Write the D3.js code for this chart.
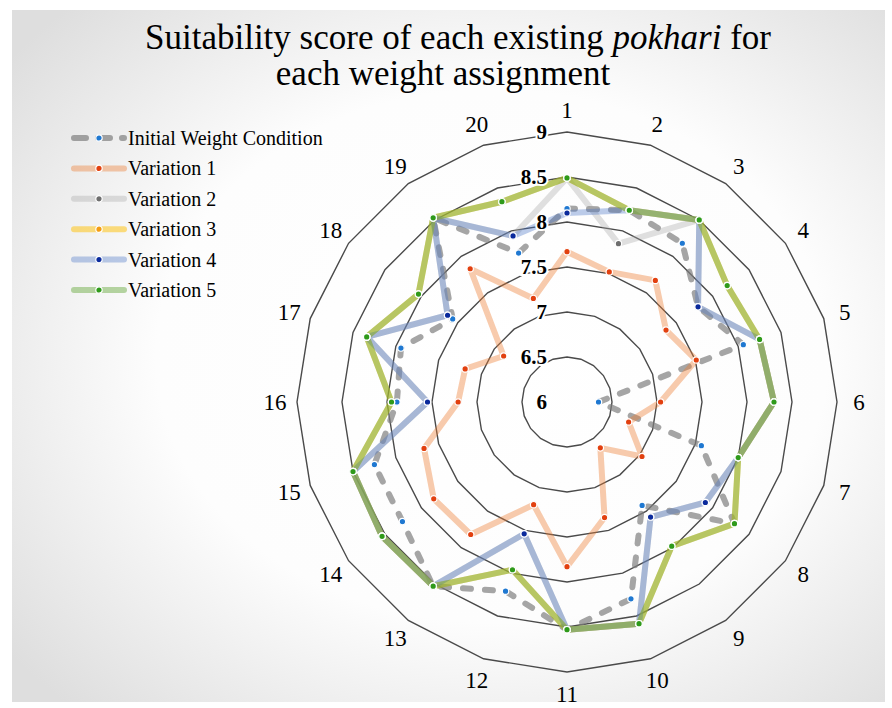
<!DOCTYPE html>
<html>
<head>
<meta charset="utf-8">
<script src="https://cdn.jsdelivr.net/npm/d3@7"></script>
<style>
  body { margin: 0; background: #fff; }
  svg text { font-family: "Liberation Serif", "Times New Roman", serif; fill: #000; }
</style>
</head>
<body>
<div id="chart"></div>
<script>
// data
var categories = ["1","2","3","4","5","6","7","8","9","10","11","12","13","14","15","16","17","18","19","20"];
var ringTicks = [6, 6.5, 7, 7.5, 8, 8.5, 9];
var seriesNames = ["Initial Weight Condition", "Variation 1", "Variation 2", "Variation 3", "Variation 4", "Variation 5"];
var initialWeight = [8.15, 8.24, 8.18, 7.80, 8.06, 6.35, 7.57, 8.30, 7.42, 8.30, 8.53, 8.21, 8.53, 8.26, 8.25, 7.89, 7.94, 7.57, 8.53, 7.74];
var variation1 = [7.67, 7.52, 7.67, 7.36, 7.51, 7.04, 6.72, 7.03, 6.63, 7.35, 7.83, 7.20, 7.82, 7.83, 7.67, 7.21, 7.19, 6.87, 7.83, 7.21];
var variation2 = [8.49, 7.85, 8.50, 7.80, 8.25, 8.30, 8.00, 7.90, 7.58, 8.59, 8.53, 7.54, 8.53, 8.54, 8.50, 7.55, 8.34, 7.64, 8.53, 7.94];
var variation3 = [8.49, 8.24, 8.50, 8.20, 8.25, 8.30, 8.00, 8.30, 7.98, 8.59, 8.53, 7.96, 8.53, 8.54, 8.50, 7.95, 8.34, 8.04, 8.53, 8.34];
var variation4 = [8.10, 8.24, 8.50, 7.80, 8.25, 8.30, 8.00, 7.90, 7.58, 8.59, 8.53, 7.54, 8.53, 8.54, 8.50, 7.55, 8.34, 7.64, 8.53, 7.94];
var variation5 = [8.49, 8.24, 8.50, 8.20, 8.25, 8.30, 8.00, 8.30, 7.98, 8.59, 8.53, 7.96, 8.53, 8.54, 8.50, 7.95, 8.34, 8.04, 8.53, 8.34];

var lineColors = ["#7f7f7f", "#ed7d31", "#a5a5a5", "#ffc000", "#4472c4", "#70ad47"];
var lineAlpha = [0.7, 0.4, 0.35, 0.5, 0.36, 0.5];
var dotColors = ["#1f78d1", "#e2400f", "#6e6e6e", "#f39c12", "#0a2a9c", "#2f9a1a"];
var allSeries = [initialWeight, variation1, variation2, variation3, variation4, variation5];

var width = 892;
var height = 708;
var cx = 567;
var cy = 402;

var svg = d3
  .select("#chart")
  .append("svg")
  .attr("width", width)
  .attr("height", height);

// soft grey vignette behind the chart
var grad = svg
  .append("defs")
  .append("radialGradient")
  .attr("id", "bg")
  .attr("cx", "55%")
  .attr("cy", "50%")
  .attr("r", "70%");
grad.append("stop").attr("offset", "0%").attr("stop-color", "#ffffff");
grad.append("stop").attr("offset", "55%").attr("stop-color", "#fdfdfd");
grad.append("stop").attr("offset", "100%").attr("stop-color", "#dedede");
svg
  .append("rect")
  .attr("x", 12)
  .attr("y", 10)
  .attr("width", 873)
  .attr("height", 692)
  .attr("fill", "url(#bg)");

// title
var title = svg
  .append("text")
  .attr("x", 458)
  .attr("y", 49)
  .attr("text-anchor", "middle")
  .attr("font-size", 35);
title.append("tspan").text("Suitability score of each existing ");
title.append("tspan").attr("font-style", "italic").text("pokhari");
title.append("tspan").text(" for");
svg
  .append("text")
  .attr("x", 443)
  .attr("y", 85)
  .attr("text-anchor", "middle")
  .attr("font-size", 35)
  .text("each weight assignment");

var rScale = d3.scaleLinear().domain([6, 9]).range([0, 270]);
var angle = d3
  .scalePoint()
  .domain(categories)
  .range([0, 2 * Math.PI * (categories.length - 1) / categories.length]);

function px(cat, v) {
  return cx + rScale(v) * Math.sin(angle(cat));
}
function py(cat, v) {
  return cy - rScale(v) * Math.cos(angle(cat));
}

var g = svg.append("g");

// grid rings (20-gons)
var ringLine = d3
  .line()
  .x(function(d) { return px(d.c, d.v); })
  .y(function(d) { return py(d.c, d.v); })
  .curve(d3.curveLinearClosed);
ringTicks.slice(1).forEach(function(t) {
  g.append("path")
    .attr("d", ringLine(categories.map(function(c) { return { c: c, v: t }; })))
    .attr("fill", "none")
    .attr("stroke", "#4a4a4a")
    .attr("stroke-width", 1.4);
});

// series lines
var seriesLine = d3
  .line()
  .x(function(d, i) { return px(categories[i], d); })
  .y(function(d, i) { return py(categories[i], d); })
  .curve(d3.curveLinearClosed);
allSeries.forEach(function(s, k) {
  var p = g
    .append("path")
    .attr("d", seriesLine(s))
    .attr("fill", "none")
    .attr("stroke", lineColors[k])
    .attr("stroke-opacity", lineAlpha[k])
    .attr("stroke-width", 6)
    .attr("stroke-linejoin", "round")
    .attr("stroke-linecap", "round");
  if (k == 0) p.attr("stroke-dasharray", "8,14");
});

// markers
allSeries.forEach(function(s, k) {
  g.selectAll(".dot" + k)
    .data(s)
    .enter()
    .append("circle")
    .attr("cx", function(d, i) { return px(categories[i], d); })
    .attr("cy", function(d, i) { return py(categories[i], d); })
    .attr("r", 3.2)
    .attr("fill", dotColors[k])
    .attr("stroke", "#fff")
    .attr("stroke-width", 1.2);
});

// value labels on the ring tops
g.selectAll(".tick")
  .data(ringTicks)
  .enter()
  .append("text")
  .attr("x", cx - 20)
  .attr("y", function(d) { return cy - rScale(d); })
  .attr("dy", "0.35em")
  .attr("text-anchor", "end")
  .attr("font-size", 21)
  .attr("font-weight", "bold")
  .attr("stroke", "#fff")
  .attr("stroke-width", 4)
  .attr("paint-order", "stroke")
  .text(function(d) { return d; });

// category labels
g.selectAll(".cat")
  .data(categories)
  .enter()
  .append("text")
  .attr("x", function(d) { return cx + 292 * Math.sin(angle(d)); })
  .attr("y", function(d) { return cy - 292 * Math.cos(angle(d)); })
  .attr("dy", "0.35em")
  .attr("text-anchor", "middle")
  .attr("font-size", 23)
  .text(function(d) { return d; });

// legend
var leg = svg
  .selectAll(".leg")
  .data(seriesNames)
  .enter()
  .append("g")
  .attr("transform", function(d, i) { return "translate(72," + (138 + i * 30.4) + ")"; });
leg
  .append("line")
  .attr("x1", 2)
  .attr("x2", 52)
  .attr("stroke", function(d, i) { return lineColors[i]; })
  .attr("stroke-opacity", function(d, i) { return lineAlpha[i]; })
  .attr("stroke-width", 6)
  .attr("stroke-linecap", "round")
  .attr("stroke-dasharray", function(d, i) { return i == 0 ? "12,12" : null; });
leg
  .append("circle")
  .attr("cx", 27)
  .attr("r", 3.2)
  .attr("fill", function(d, i) { return dotColors[i]; })
  .attr("stroke", "#fff")
  .attr("stroke-width", 1.2);
leg
  .append("text")
  .attr("x", 56)
  .attr("dy", "0.35em")
  .attr("font-size", 20)
  .text(function(d) { return d; });
</script>
</body>
</html>
